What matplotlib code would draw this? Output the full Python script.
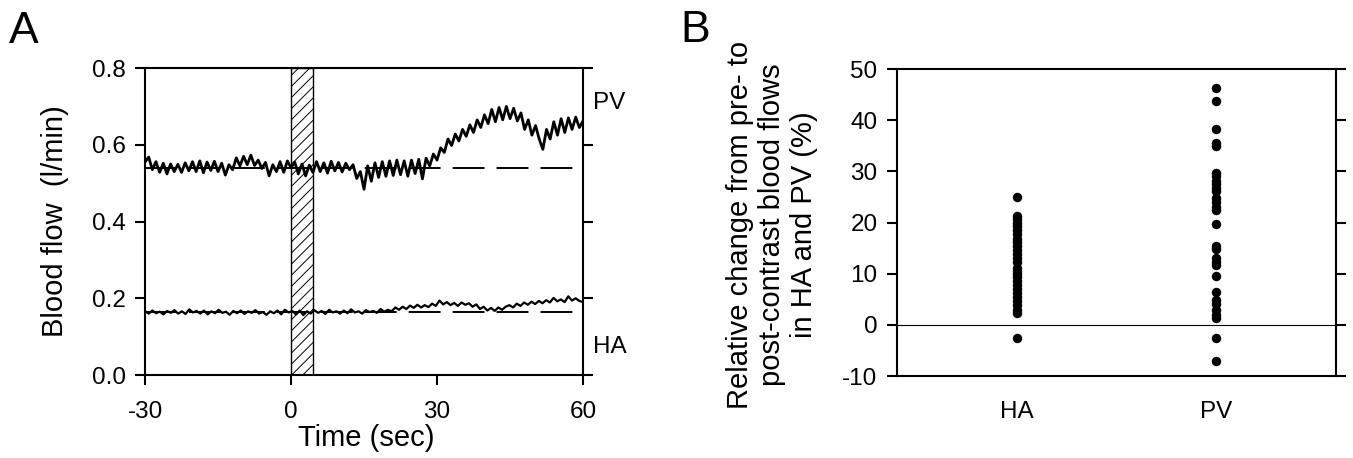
import numpy as np
import matplotlib
matplotlib.use('Agg')
import matplotlib.pyplot as plt

plt.rcParams['font.family'] = ['Liberation Sans', 'DejaVu Sans']
plt.rcParams['hatch.linewidth'] = 0.7
plt.rcParams['axes.unicode_minus'] = False

# Panel A: flow traces, one value every 0.75 s from -30 to 60 s
pv_flow = [
    0.555, 0.568, 0.535, 0.556, 0.528, 0.552, 0.524, 0.550, 0.530, 0.549, 0.528, 0.553, 0.532, 0.556,
    0.530, 0.558, 0.527, 0.555, 0.533, 0.557, 0.530, 0.552, 0.521, 0.548,
    0.535, 0.566, 0.545, 0.570, 0.548, 0.573, 0.546, 0.560, 0.538,
    0.554, 0.519, 0.548, 0.530, 0.556, 0.528, 0.558, 0.540,
    0.555, 0.524, 0.550, 0.519, 0.547, 0.528, 0.556, 0.530, 0.553, 0.526, 0.557, 0.532, 0.554, 0.529, 0.552, 0.535,
    0.548, 0.512, 0.530, 0.484, 0.545, 0.505,
    0.553, 0.515, 0.556, 0.518, 0.558, 0.520, 0.560, 0.522, 0.558, 0.518, 0.560, 0.525, 0.562, 0.511,
    0.565, 0.545, 0.576, 0.560, 0.592, 0.580, 0.615, 0.598,
    0.628, 0.610, 0.640, 0.622, 0.652, 0.632, 0.665, 0.645, 0.678, 0.655,
    0.692, 0.660, 0.697, 0.665, 0.700, 0.668, 0.695, 0.662,
    0.683, 0.640, 0.665, 0.625, 0.650, 0.615, 0.588, 0.640,
    0.615, 0.660, 0.625, 0.668, 0.632, 0.670, 0.640, 0.672, 0.645, 0.662,
]
ha_flow = [
    0.166, 0.160, 0.168, 0.161, 0.165, 0.158, 0.167, 0.162, 0.169, 0.160, 0.166, 0.159, 0.171, 0.163,
    0.167, 0.160, 0.168, 0.158, 0.166, 0.161, 0.170, 0.162, 0.165, 0.157, 0.167, 0.161, 0.168, 0.159,
    0.166, 0.162, 0.169, 0.160, 0.164, 0.157, 0.166, 0.161, 0.168, 0.158, 0.170, 0.163, 0.167,
    0.158, 0.168, 0.156, 0.166, 0.160, 0.169, 0.162, 0.167, 0.159, 0.170, 0.163, 0.166, 0.160,
    0.168, 0.161, 0.171, 0.163, 0.166, 0.160, 0.169, 0.164, 0.167, 0.162, 0.172, 0.165, 0.170,
    0.166, 0.176, 0.170, 0.178, 0.172, 0.181, 0.175, 0.183, 0.176, 0.182, 0.177, 0.186, 0.180,
    0.194, 0.184, 0.190, 0.182, 0.188, 0.180, 0.189, 0.183, 0.187, 0.178, 0.184,
    0.172, 0.178, 0.168, 0.175, 0.167, 0.176, 0.170, 0.178,
    0.182, 0.176, 0.186, 0.180, 0.189, 0.183, 0.191, 0.185, 0.193,
    0.187, 0.195, 0.189, 0.201, 0.192, 0.197, 0.190, 0.205, 0.194, 0.200, 0.193, 0.190,
]
pv_baseline = 0.54
ha_baseline = 0.164
contrast_start = 0.0
contrast_end = 4.6
time_ticks = [-30, 0, 30, 60]
flow_ticks = [0.0, 0.2, 0.4, 0.6, 0.8]

# Panel B: relative change (%) per vessel
groups = ['HA', 'PV']
ha_change = [25.0, 21.2, 20.6, 20.0, 19.3, 18.6, 17.8, 16.8, 16.2, 15.5, 14.6, 13.8, 13.0, 12.2,
             11.2, 10.6, 10.0, 9.3, 8.6, 7.8, 7.0, 6.3, 5.5, 4.6, 3.8, 3.0, 2.3, -2.5]
pv_change = [46.2, 43.8, 38.3, 35.6, 35.0, 29.6, 29.0, 28.2, 27.5, 26.8, 26.2, 24.8, 24.0, 23.0,
             22.5, 19.8, 15.5, 14.8, 13.0, 12.3, 11.7, 9.5, 6.5, 4.8, 4.0, 3.0, 2.0, 1.4, -2.5, -7.0]
change_ticks = [-10, 0, 10, 20, 30, 40, 50]

tick_size = 17.5
label_size = 21

fig = plt.figure(figsize=(13.53, 4.58), dpi=100)
axA = fig.add_axes([0.1072, 0.1812, 0.3237, 0.6703])
axB = fig.add_axes([0.6630, 0.1790, 0.3245, 0.6703])

# ---- panel A ----
t_pv = np.linspace(-30, 60, len(pv_flow))
t_ha = np.linspace(-30, 60, len(ha_flow))

axA.axvspan(contrast_start, contrast_end, facecolor='white', edgecolor='black',
            hatch='///', lw=1.0, zorder=1)
dash = (0, (16.4, 6.2))
axA.axhline(pv_baseline, color='black', lw=1.4, linestyle=dash, zorder=2)
axA.axhline(ha_baseline, color='black', lw=1.4, linestyle=dash, zorder=2)
axA.plot(t_pv, pv_flow, color='black', lw=2.0, zorder=3)
axA.plot(t_ha, ha_flow, color='black', lw=1.6, zorder=3)

axA.set_xlim(-30, 60)
axA.set_ylim(0, 0.8)
axA.set_xticks(time_ticks)
axA.set_yticks(flow_ticks)
axA.set_yticklabels([f'{v:.1f}' for v in flow_ticks])
axA.tick_params(axis='both', direction='out', length=7, width=1.5, labelsize=tick_size)
axA.tick_params(axis='y', right=True, pad=7)
axA.tick_params(axis='x', pad=12)
for s in axA.spines.values():
    s.set_linewidth(1.5)

axA.text(-0.205, 0.5, 'Blood flow  (l/min)', transform=axA.transAxes, rotation=90,
         ha='center', va='center', fontsize=label_size)
axA.text(0.505, -0.205, 'Time (sec)', transform=axA.transAxes,
         ha='center', va='center', fontsize=label_size)
axA.text(1.023, 0.885, 'PV', transform=axA.transAxes, ha='left', va='center', fontsize=tick_size)
axA.text(1.023, 0.09, 'HA', transform=axA.transAxes, ha='left', va='center', fontsize=tick_size)

# ---- panel B ----
axB.axhline(0, color='black', lw=0.8, zorder=1)
axB.plot([0] * len(ha_change), ha_change, 'o', color='black', ms=5.8, zorder=3)
axB.plot([1] * len(pv_change), pv_change, 'o', color='black', ms=5.8, zorder=3)

axB.set_xlim(-0.6, 1.6)
axB.set_ylim(-10, 50)
axB.set_xticks([0, 1])
axB.set_xticklabels(groups)
axB.set_yticks(change_ticks)
axB.tick_params(axis='y', direction='out', length=7, width=1.5, labelsize=tick_size,
                right=True, pad=7)
axB.tick_params(axis='x', length=0, pad=18, labelsize=tick_size)
for s in axB.spines.values():
    s.set_linewidth(1.5)

axB.text(-0.285, 0.492, 'Relative change from pre- to\npost-contrast blood flows\nin HA and PV (%)',
         transform=axB.transAxes, rotation=90, ha='center', va='center',
         multialignment='center', fontsize=label_size)

# panel letters
fig.text(0.0066, 0.975, 'A', fontsize=32, va='top', ha='left')
fig.text(0.5025, 0.978, 'B', fontsize=32, va='top', ha='left')

fig.savefig('out.png', dpi=100, facecolor='white')
